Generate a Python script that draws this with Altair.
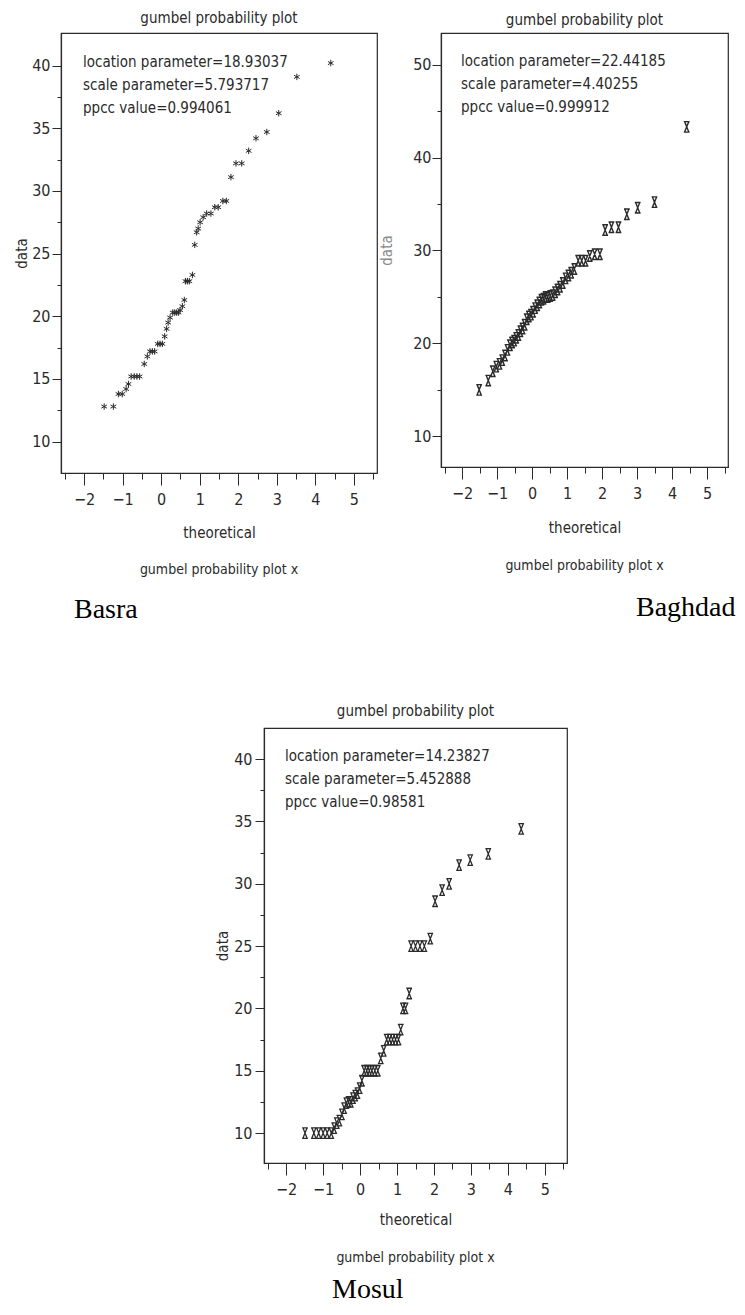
import altair as alt
import pandas as pd

# ---------------- data ----------------
basra_x = [-1.48, -1.24, -1.11, -1.01, -0.91, -0.85, -0.78, -0.70, -0.63, -0.56,
           -0.44, -0.36, -0.29, -0.23, -0.17, -0.09, -0.03, 0.03, 0.09, 0.14,
           0.18, 0.23, 0.30, 0.35, 0.40, 0.45, 0.49, 0.55, 0.60, 0.63,
           0.68, 0.73, 0.81, 0.87, 0.92, 0.96, 1.01, 1.09, 1.18, 1.29,
           1.39, 1.48, 1.60, 1.69, 1.81, 1.94, 2.09, 2.27, 2.46, 2.74,
           3.05, 3.52, 4.40]
basra_y = [12.8, 12.8, 13.8, 13.8, 14.2, 14.6, 15.2, 15.2, 15.2, 15.2,
           16.2, 16.8, 17.2, 17.2, 17.2, 17.8, 17.8, 17.8, 18.4, 19.0,
           19.5, 19.9, 20.3, 20.3, 20.3, 20.3, 20.5, 20.8, 21.3, 22.8,
           22.8, 22.8, 23.3, 25.7, 26.7, 27.0, 27.5, 27.9, 28.2, 28.2,
           28.7, 28.7, 29.2, 29.2, 31.1, 32.2, 32.2, 33.2, 34.2, 34.7,
           36.2, 39.1, 40.2]

baghdad_x = [-1.51, -1.25, -1.12, -1.02, -0.93, -0.85, -0.77, -0.70, -0.63, -0.57,
             -0.51, -0.45, -0.39, -0.33, -0.27, -0.21, -0.15, -0.09, -0.03, 0.03,
             0.09, 0.15, 0.21, 0.27, 0.33, 0.39, 0.45, 0.52, 0.59, 0.66,
             0.73, 0.80, 0.88, 0.96, 1.04, 1.12, 1.21, 1.32, 1.42, 1.53,
             1.65, 1.79, 1.94, 2.09, 2.27, 2.47, 2.71, 3.02, 3.50, 4.42]
baghdad_y = [15.0, 16.0, 17.0, 17.5, 17.8, 18.2, 18.7, 19.3, 19.8, 20.1,
             20.3, 20.6, 20.9, 21.3, 21.6, 22.0, 22.6, 22.9, 23.1, 23.4,
             23.8, 24.1, 24.4, 24.7, 24.8, 25.0, 25.0, 25.1, 25.2, 25.5,
             25.8, 26.1, 26.5, 27.0, 27.3, 27.6, 28.0, 28.9, 28.9, 28.9,
             29.4, 29.6, 29.6, 32.2, 32.5, 32.5, 33.9, 34.6, 35.2, 43.3]

mosul_x = [-1.49, -1.25, -1.12, -1.00, -0.89, -0.78, -0.70, -0.63, -0.56, -0.49,
           -0.43, -0.37, -0.31, -0.25, -0.19, -0.13, -0.07, -0.01, 0.05, 0.11,
           0.18, 0.25, 0.32, 0.40, 0.48, 0.56, 0.64, 0.72, 0.80, 0.88,
           0.96, 1.04, 1.10, 1.16, 1.23, 1.33, 1.38, 1.50, 1.62, 1.74,
           1.90, 2.03, 2.22, 2.41, 2.68, 2.98, 3.47, 4.36]
mosul_y = [10.0, 10.0, 10.0, 10.0, 10.0, 10.0, 10.4, 10.8, 11.0, 11.5,
           12.0, 12.4, 12.5, 12.5, 12.8, 13.0, 13.2, 13.6, 14.2, 15.0,
           15.0, 15.0, 15.0, 15.0, 15.0, 16.0, 16.6, 17.5, 17.5, 17.5,
           17.5, 17.5, 18.3, 20.0, 20.0, 21.2, 25.0, 25.0, 25.0, 25.0,
           25.6, 28.6, 29.5, 30.0, 31.5, 31.9, 32.4, 34.4]

basra_params = ["location parameter=18.93037", "scale parameter=5.793717", "ppcc value=0.994061"]
baghdad_params = ["location parameter=22.44185", "scale parameter=4.40255", "ppcc value=0.999912"]
mosul_params = ["location parameter=14.23827", "scale parameter=5.452888", "ppcc value=0.98581"]

x_ticks = [-2.5, -2, -1.5, -1, -0.5, 0, 0.5, 1, 1.5, 2, 2.5, 3, 3.5, 4, 4.5, 5, 5.5]
y_ticks_a = [10, 12.5, 15, 17.5, 20, 22.5, 25, 27.5, 30, 32.5, 35, 37.5, 40]
y_ticks_b = [10, 15, 20, 25, 30, 35, 40, 45, 50]

# ---------------- styles ----------------
FONT = "Liberation Sans Narrow, DejaVu Sans Condensed, Liberation Sans, sans-serif"
SERIF = "Liberation Serif, Times New Roman, serif"
INK = "#2a2a2a"
ASTER = "M0,-1L0,1M-0.87,-0.5L0.87,0.5M-0.87,0.5L0.87,-0.5"
XMARK = "M-0.55,-1L0.55,-1M-0.55,1L0.55,1M-0.4,-1L0.4,1M0.4,-1L-0.4,1"


def panel(xs, ys, shape, msize, mwidth, ydom, yticks, ymod, w, h, params,
          ytitle_dx, ytitle_color, ann_dx, ann_dy, title_dy,
          caption, cap_dx, cap_dy, xt_dy, sub_dy, ylab_pad):
    df = pd.DataFrame({"theoretical": xs, "data": ys})
    xaxis = alt.Axis(
        values=x_ticks, format="~g",
        labelExpr="datum.value % 1 === 0 ? datum.label : ''",
        tickSize={"condition": {"test": "datum.value % 1 === 0", "value": 12}, "value": 6},
        tickColor=INK, domainColor=INK, tickWidth=1, domainWidth=1.2,
        labelFont=FONT, labelFontSize=16, labelColor=INK, labelPadding=6,
        labelOverlap=False, labelFlush=False, grid=False,
        title="theoretical", titleFont=FONT, titleFontSize=15,
        titleFontWeight="normal", titleColor=INK,
        titleX=w / 2, titleY=xt_dy, titleBaseline="middle", titleAlign="center",
    )
    yaxis = alt.Axis(
        values=yticks, format="~g",
        labelExpr="datum.value %% %d === 0 ? datum.label : ''" % ymod,
        tickSize={"condition": {"test": "datum.value %% %d === 0" % ymod, "value": 9}, "value": 4},
        tickColor=INK, domainColor=INK, tickWidth=1, domainWidth=1.2,
        labelFont=FONT, labelFontSize=16, labelColor=INK, labelPadding=ylab_pad,
        labelOverlap=False, labelFlush=False, grid=False,
        title="data", titleFont=FONT, titleFontSize=15,
        titleFontWeight="normal", titleColor=ytitle_color,
        titleX=-ytitle_dx, titleY=h / 2, titleAngle=270,
        titleBaseline="middle", titleAlign="center",
    )
    pts = alt.Chart(df).mark_point(
        shape=shape, size=msize, filled=False, color=INK, strokeWidth=mwidth, opacity=1
    ).encode(
        x=alt.X("theoretical:Q", scale=alt.Scale(domain=[-2.6, 5.6], nice=False, zero=False), axis=xaxis),
        y=alt.Y("data:Q", scale=alt.Scale(domain=ydom, nice=False, zero=False), axis=yaxis),
    )
    one = alt.Data(values=[{"k": 1}])
    ttl = alt.Chart(one).mark_text(
        text="gumbel probability plot", align="center", baseline="middle",
        font=FONT, fontSize=15, color=INK,
    ).encode(x=alt.value(w / 2), y=alt.value(-title_dy))
    ann = alt.Chart(one).mark_text(
        text=params, align="left", baseline="middle", lineHeight=23,
        font=FONT, fontSize=15, color=INK,
    ).encode(x=alt.value(ann_dx), y=alt.value(ann_dy))
    sub = alt.Chart(one).mark_text(
        text="gumbel probability plot x", align="center", baseline="middle",
        font=FONT, fontSize=14, color=INK,
    ).encode(x=alt.value(w / 2), y=alt.value(h + sub_dy))
    cap = alt.Chart(one).mark_text(
        text=caption, align="left", baseline="alphabetic",
        font=SERIF, fontSize=28, color="#000000",
    ).encode(x=alt.value(cap_dx), y=alt.value(cap_dy))
    return alt.layer(pts, ttl, ann, sub, cap).properties(width=w, height=h)


basra = panel(basra_x, basra_y, ASTER, 42, 1.0, [7.5, 42.6], y_ticks_a, 5,
              316, 440, basra_params, 40, INK, 22, 29, 15,
              "Basra", 13, 585, 59, 97, 2)
baghdad = panel(baghdad_x, baghdad_y, XMARK, 110, 1.4, [6.7, 53.4], y_ticks_b, 10,
                287, 434, baghdad_params, 55, "#888888", 20, 28, 13,
                "Baghdad", 195, 583, 60, 99, 1)
mosul = panel(mosul_x, mosul_y, XMARK, 110, 1.3, [7.6, 42.5], y_ticks_a, 5,
              303, 435, mosul_params, 42, INK, 21, 28, 17,
              "Mosul", 68, 570, 56, 95, 3)

spacer = alt.Chart(alt.Data(values=[{"v": 0}])).mark_point(opacity=0).encode(
    x=alt.X("v:Q", axis=None), y=alt.Y("v:Q", axis=None)
).properties(width=152, height=10, view=alt.ViewBackground(stroke="white"))

top = alt.hconcat(basra, baghdad, spacing=0)
bottom = alt.hconcat(spacer, mosul, spacing=0)

chart = alt.vconcat(top, bottom, spacing=78).properties(
    padding={"left": 5, "top": 2, "right": 0, "bottom": 0}
).configure(background="white").configure_view(stroke=INK, strokeWidth=1.2)

chart.save("out.html", embed_options={"renderer": "svg", "actions": False})
